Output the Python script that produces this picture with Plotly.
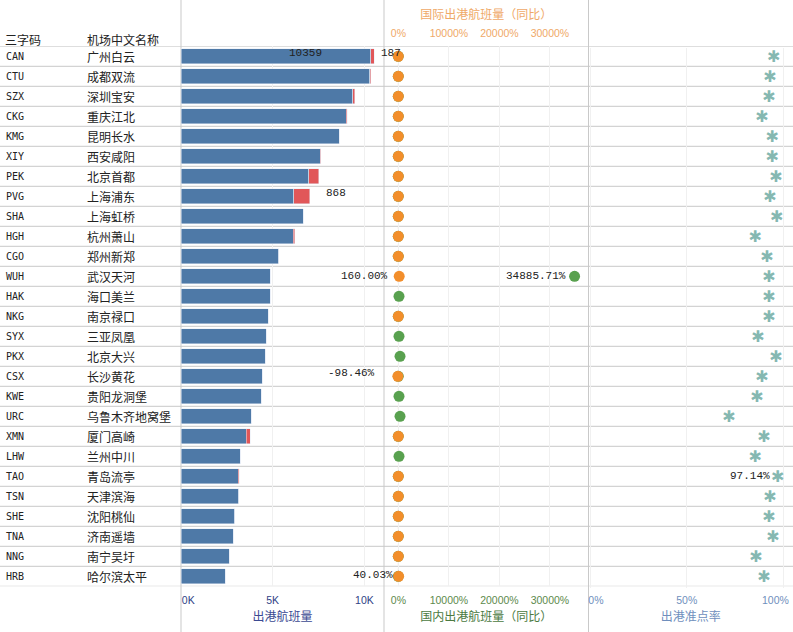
import plotly.graph_objects as go

W, H = 793, 632
CJK = 'Noto Sans CJK SC'
MONO = 'Liberation Mono'
SANS = 'Liberation Sans'
LINE = '#c9c9c9'
GRID = '#f0f0f0'

codes = ['CAN', 'CTU', 'SZX', 'CKG', 'KMG', 'XIY', 'PEK', 'PVG', 'SHA', 'HGH', 'CGO', 'WUH', 'HAK', 'NKG',
         'SYX', 'PKX', 'CSX', 'KWE', 'URC', 'XMN', 'LHW', 'TAO', 'TSN', 'SHE', 'TNA', 'NNG', 'HRB']
names = ['广州白云', '成都双流', '深圳宝安', '重庆江北', '昆明长水', '西安咸阳', '北京首都', '上海浦东', '上海虹桥',
         '杭州萧山', '郑州新郑', '武汉天河', '海口美兰', '南京禄口', '三亚凤凰', '北京大兴', '长沙黄花', '贵阳龙洞堡',
         '乌鲁木齐地窝堡', '厦门高崎', '兰州中川', '青岛流亭', '天津滨海', '沈阳桃仙', '济南遥墙', '南宁吴圩', '哈尔滨太平']

domestic_flights = [10359, 10305, 9360, 8997, 8615, 7597, 6960, 6161, 6652, 6120, 5343, 4853, 4860, 4744,
                    4635, 4580, 4417, 4362, 3817, 3563, 3217, 3108, 3140, 2944, 2850, 2617, 2399]
intl_flights = [187, 45, 125, 55, 0, 35, 563, 868, 0, 70, 0, 0, 0, 0,
                0, 0, 0, 0, 0, 200, 0, 55, 0, 0, 0, 0, 0]

# orange dots, rows with no international change are left empty
intl_yoy = [-20, -20, -20, -20, -20, -20, -20, -20, -20, -20, -20, 160, None, -20,
            None, None, -98.46, None, None, -20, None, -20, -20, -20, -20, -20, 40.03]
dom_yoy = [-20, -20, -20, -20, -20, -20, -20, -20, -20, -20, -20, 34885.71, 120, -20,
           120, 320, -20, 120, 320, -20, 120, -20, -20, -20, -20, -20, -20]
on_time = [95.0, 93.1, 92.6, 89.0, 94.2, 94.2, 96.2, 93.1, 96.6, 85.4, 91.6, 92.6, 92.6, 92.6,
           86.9, 96.2, 89.0, 86.4, 71.9, 90.0, 85.4, 97.14, 93.1, 92.6, 94.7, 85.9, 90.0]

flight_ticks = [0, 5000, 10000]
flight_labels = ['\u00a0\u00a0\u00a0\u00a0\u00a00K', '5K', '10K']
yoy_ticks = [0, 10000, 20000, 30000]
yoy_labels = ['0%', '10000%', '20000%', '30000%']
rate_ticks = [0, 50, 100]
rate_labels = ['\u00a0\u00a0\u00a0\u00a00%', '50%', '']  # 100% would run off the page, see annotation below

fig = go.Figure()
fig.add_trace(go.Bar(y=codes, x=domestic_flights, orientation='h', marker_color='#4e79a7', xaxis='x', yaxis='y'))
fig.add_trace(go.Bar(y=codes, x=intl_flights, orientation='h', marker_color='#e15759', xaxis='x', yaxis='y'))
fig.add_trace(go.Scatter(y=codes, x=dom_yoy, mode='markers', marker=dict(color='#59a14f', size=11),
                         xaxis='x2', yaxis='y'))
fig.add_trace(go.Scatter(y=codes, x=intl_yoy, mode='markers', marker=dict(color='#f28e2b', size=11),
                         xaxis='x4', yaxis='y'))
# plotly's asterisk symbol has eight arms, the glyph has six
fig.add_trace(go.Scatter(y=codes, x=on_time, mode='text', text=['\u2731'] * len(codes), textposition='middle center',
                         textfont=dict(family='DejaVu Sans', size=16, color='#85b8b1'),
                         xaxis='x3', yaxis='y2'))


def x_axis(left, right, rng, ticks, labels, tick_color, title, title_color, side='bottom', standoff=7):
    return dict(domain=[left / W, right / W], range=rng, anchor='y', side=side, tickmode='array',
                tickvals=ticks, ticktext=labels, tickfont=dict(family=SANS, size=10.5, color=tick_color),
                ticks='outside', ticklen=4, tickcolor='rgba(0,0,0,0)', showline=False, zeroline=False,
                showgrid=True, gridcolor=GRID, gridwidth=1, automargin=False, ticklabeloverflow='allow',
                title=dict(text=title, font=dict(family=CJK, size=12, color=title_color), standoff=standoff))


yoy_range = [(384 - 398.4) / 0.00505, (588.5 - 398.4) / 0.00505]
y_common = dict(type='category', categoryorder='array', categoryarray=codes, range=[26.5, -0.5],
                showticklabels=False, ticks='', showgrid=False, zeroline=False, showline=False)

fig.update_layout(
    width=W, height=H, margin=dict(l=0, r=0, t=0, b=0), autosize=False,
    paper_bgcolor='white', plot_bgcolor='white', showlegend=False, barmode='stack', bargap=0.25,
    yaxis=dict(domain=[1 - 586.3 / H, 1 - 46.3 / H], **y_common),
    # the glyph sits a bit high in its line box, so its axis is nudged down
    yaxis2=dict(domain=[1 - 587.8 / H, 1 - 47.8 / H], anchor='x3', **y_common),
    xaxis=x_axis(181, 384, [0, 203 / 0.01834], flight_ticks, flight_labels, '#2f3f86', '出港航班量', '#3b4a92'),
    xaxis2=x_axis(384, 588.5, yoy_range, yoy_ticks, yoy_labels, '#5d8a4c', '国内出港航班量（同比）', '#4b7a3f'),
    xaxis3=x_axis(588.5, W, [(588.5 - 590.1) / 1.932, (W - 590.1) / 1.932], rate_ticks, rate_labels,
                  '#6f8fbd', '出港准点率', '#6f8fbd'),
    xaxis4=x_axis(384, 588.5, yoy_range, yoy_ticks, yoy_labels, '#efa968', '国际出港航班量（同比）', '#efa968',
                  side='top', standoff=4),
)
fig.update_layout(xaxis4=dict(overlaying='x2', showgrid=False))

# row lines and the panel dividers
shapes = []
for i in range(len(codes) + 1):
    shapes.append(dict(type='line', xref='paper', x0=0, x1=1, yref='y', y0=i - 0.5, y1=i - 0.5,
                       line=dict(color=LINE, width=1), layer='below'))
for px in [181, 384, 588.5]:
    shapes.append(dict(type='line', xref='paper', x0=px / W, x1=px / W, yref='paper', y0=0, y1=1,
                       line=dict(color=LINE, width=1), layer='below'))
shapes.append(dict(type='line', xref='x2', x0=0, x1=0, yref='y', y0=-0.5, y1=len(codes) - 0.5,
                   line=dict(color='#f0c9a0', width=1, dash='dot'), layer='below'))
fig.update_layout(shapes=shapes)

annotations = []
for code, name in zip(codes, names):
    annotations.append(dict(text=code, xref='paper', x=4 / W, yref='y', y=code, xanchor='left', showarrow=False,
                            font=dict(family='DejaVu Sans Mono', size=10, color='#222222')))
    annotations.append(dict(text=name, xref='paper', x=85 / W, yref='y', y=code, xanchor='left', showarrow=False,
                            font=dict(family=CJK, size=12, color='#222222')))
for text, px in [('三字码', 3), ('机场中文名称', 85)]:
    annotations.append(dict(text=text, xref='paper', x=px / W, yref='paper', y=1 - 39 / H, xanchor='left',
                            yanchor='middle', showarrow=False, font=dict(family=CJK, size=12, color='#222222')))
annotations.append(dict(text='100%', xref='x3', x=100, xanchor='right', xshift=8, yref='paper', y=1 - 600 / H,
                        yanchor='middle', showarrow=False, font=dict(family=SANS, size=10.5, color='#6f8fbd')))

# hand placed value labels
value_labels = [('10359', 'x', 10359, 'CAN', 'right', -47, -3),
                ('187', 'x', 10546, 'CAN', 'left', 5, -3),
                ('868', 'x', 7029, 'PVG', 'left', 14, -3),
                ('160.00%', 'x2', 160, 'WUH', 'right', -9, 0),
                ('-98.46%', 'x', 4417, 'CSX', 'left', 64, -3),
                ('40.03%', 'x2', 40.03, 'HRB', 'right', -4, -1),
                ('34885.71%', 'x2', 34885.71, 'WUH', 'right', -7, 0),
                ('97.14%', 'x3', 97.14, 'TAO', 'right', -6, 0)]
for text, xref, xval, row, anchor, dx, dy in value_labels:
    annotations.append(dict(text=text, xref=xref, x=xval, yref='y', y=row, xanchor=anchor, xshift=dx, yshift=-dy,
                            showarrow=False, font=dict(family=MONO, size=11, color='#222222')))
fig.update_layout(annotations=annotations)

fig.write_html("out.html", config={'displayModeBar': False}, post_script="document.body.style.margin='0';")
